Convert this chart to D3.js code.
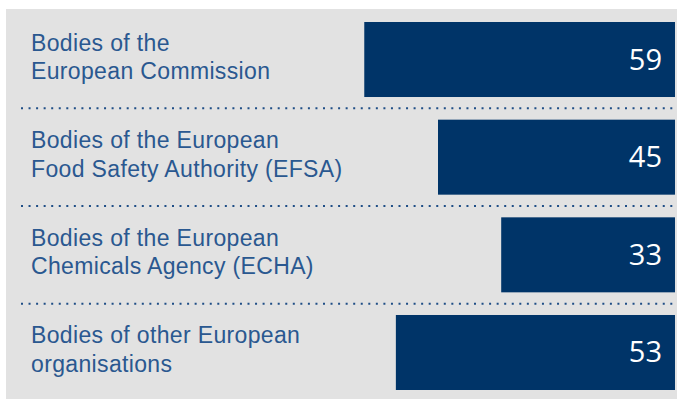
<!DOCTYPE html>
<html>
<head>
<meta charset="utf-8">
<script src="https://cdn.jsdelivr.net/npm/d3@7"></script>
<style>
  body { margin: 0; background: #fff; }
</style>
</head>
<body>
<div id="chart"></div>
<script>
// Data
const categories = ["commission", "efsa", "echa", "other"];
const labels = [
    ["Bodies of the", "European Commission"],
    ["Bodies of the European", "Food Safety Authority (EFSA)"],
    ["Bodies of the European", "Chemicals Agency (ECHA)"],
    ["Bodies of other European", "organisations"]
];
const values = [59, 45, 33, 53];

const W = 677, H = 401;

const svg = d3.select("#chart")
    .append("svg")
    .attr("width", W)
    .attr("height", H);

// grey panel
svg.append("rect")
    .attr("x", 6)
    .attr("y", 9)
    .attr("width", W - 6)
    .attr("height", 390)
    .attr("fill", "#e2e2e2");

// Rows
const y = d3.scaleBand()
    .domain(categories)
    .range([22, 390])
    .paddingInner(0.232)
    .paddingOuter(0);

// Bars grow from the right edge
const x = d3.scaleLinear()
    .domain([0, 60])
    .range([675, 359]);

const rows = categories.map((c, i) => ({ key: c, label: labels[i], value: values[i] }));

// dotted separators
const gap = y.step() - y.bandwidth();
svg.selectAll("line.sep")
    .data(categories.slice(0, -1))
    .enter()
    .append("line")
    .attr("class", "sep")
    .attr("x1", 21)
    .attr("x2", 677)
    .attr("y1", d => y(d) + y.bandwidth() + gap / 2)
    .attr("y2", d => y(d) + y.bandwidth() + gap / 2)
    .attr("stroke", "#1f4e86")
    .attr("stroke-width", 2)
    .attr("stroke-dasharray", "2,5.55");

// bars
svg.selectAll("rect.bar")
    .data(rows)
    .enter()
    .append("rect")
    .attr("class", "bar")
    .attr("x", d => x(d.value))
    .attr("y", d => y(d.key))
    .attr("width", d => x(0) - x(d.value))
    .attr("height", y.bandwidth())
    .attr("fill", "#003468");

// value labels
svg.selectAll("text.val")
    .data(rows)
    .enter()
    .append("text")
    .attr("class", "val")
    .attr("x", 662)
    .attr("y", d => y(d.key) + y.bandwidth() / 2 + 10)
    .attr("text-anchor", "end")
    .attr("fill", "#fff")
    .style("font-family", "'Open Sans', sans-serif")
    .style("font-size", "29px")
    .text(d => d.value);

// category labels (two lines)
const lab = svg.selectAll("text.lab")
    .data(rows)
    .enter()
    .append("text")
    .attr("class", "lab")
    .attr("x", 31)
    .attr("y", d => y(d.key) + y.bandwidth() / 2 - 9)
    .attr("fill", "#2a5890")
    .style("font-family", "'Liberation Sans', Arial, sans-serif")
    .style("font-size", "23px")
    .style("letter-spacing", "0.35px");

lab.selectAll("tspan")
    .data(d => d.label)
    .enter()
    .append("tspan")
    .attr("x", 31)
    .attr("dy", (d, i) => i === 0 ? 0 : 28.5)
    .text(d => d);
</script>
</body>
</html>
